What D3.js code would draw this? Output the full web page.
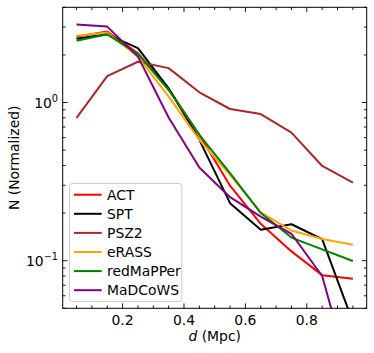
<!DOCTYPE html>
<html><head><meta charset="utf-8">
<script src="https://cdn.jsdelivr.net/npm/d3@7"></script>
<style>html,body{margin:0;padding:0;background:#fff;}svg{display:block;font-family:"DejaVu Sans",sans-serif;}</style>
</head><body><svg id="c" width="374" height="353"></svg>
<script>
const d = [0.05,0.15,0.25,0.35,0.45,0.55,0.65,0.75,0.85,0.95];
const ACT = [2.61,2.81,2.05,1.22,0.625,0.298,0.171,0.1145,0.081,0.077];
const SPT = [2.53,2.70,2.21,1.23,0.581,0.231,0.157,0.170,0.137,0.041];
const PSZ2 = [0.80,1.47,1.81,1.65,1.16,0.91,0.845,0.645,0.397,0.312];
const eRASS = [2.64,2.77,1.95,1.09,0.58,0.349,0.202,0.155,0.137,0.126];
const redMaPPer = [2.46,2.70,2.03,1.20,0.625,0.358,0.200,0.140,0.118,0.0995];
const MaDCoWS = [3.11,3.02,1.95,0.804,0.388,0.252,0.190,0.148,0.080,0.016];
const seriesNames = ["ACT","SPT","PSZ2","eRASS","redMaPPer","MaDCoWS"];
const seriesValues = [ACT,SPT,PSZ2,eRASS,redMaPPer,MaDCoWS];
const seriesColors = ["#ff0000","#000000","#a52a2a","#ffa500","#008000","#800080"];
const xTicks = [0.2,0.4,0.6,0.8];
const xTickLabels = ["0.2","0.4","0.6","0.8"];
const yTicks = [0.1,1];
const yTickExp = ["−1","0"];

const L=62.7,R=366.7,T=7.3,B=308.3;
const svg=d3.select("#c");
const x=d3.scaleLinear().domain([0.005,0.995]).range([L,R]);
const y=d3.scaleLog().domain([0.05,4]).range([B,T]);

svg.append("defs").append("clipPath").attr("id","clip").append("rect")
  .attr("x",L).attr("y",T).attr("width",R-L).attr("height",B-T);

const g=svg.append("g").attr("clip-path","url(#clip)");
const line=d3.line().x((v,i)=>x(d[i])).y(v=>y(v));
seriesValues.forEach((vals,k)=>{
  g.append("path").attr("d",line(vals)).attr("fill","none")
   .attr("stroke",seriesColors[k]).attr("stroke-width",2).attr("stroke-linejoin","round");
});

// ticks
const tk=svg.append("g").attr("stroke","#000").attr("stroke-width",0.9);
const xMinor=d3.range(1,20).map(i=>i*0.05).filter(v=>!xTicks.some(t=>Math.abs(t-v)<1e-9));
function xt(v,len){
  tk.append("line").attr("x1",x(v)).attr("x2",x(v)).attr("y1",B).attr("y2",B-len);
  tk.append("line").attr("x1",x(v)).attr("x2",x(v)).attr("y1",T).attr("y2",T+len);
}
xTicks.forEach(v=>xt(v,4.9));
xMinor.forEach(v=>xt(v,2.8));
const yMinor=[];
[0.01,0.1,1].forEach(b=>{for(let m=2;m<=9;m++){const v=b*m; if(v>=0.05&&v<=4.0001) yMinor.push(v);}});
function yt(v,len){
  tk.append("line").attr("y1",y(v)).attr("y2",y(v)).attr("x1",L).attr("x2",L+len);
  tk.append("line").attr("y1",y(v)).attr("y2",y(v)).attr("x1",R).attr("x2",R-len);
}
yTicks.forEach(v=>yt(v,4.9));
yMinor.forEach(v=>yt(v,2.8));

// frame
svg.append("rect").attr("x",L).attr("y",T).attr("width",R-L).attr("height",B-T)
  .attr("fill","none").attr("stroke","#000").attr("stroke-width",1);

// tick labels
xTicks.forEach((v,i)=>{
  svg.append("text").attr("x",x(v)).attr("y",324.6).attr("text-anchor","middle")
    .attr("font-size",13.9).attr("fill","#000").text(xTickLabels[i]);
});
yTicks.forEach((v,i)=>{
  const t=svg.append("text").attr("x",58).attr("y",y(v)+5.3).attr("text-anchor","end")
    .attr("font-size",13.9).attr("fill","#000");
  t.append("tspan").text("10");
  t.append("tspan").attr("dy",-6).attr("font-size",9.7).text(yTickExp[i]);
});

// axis labels
const xl=svg.append("text").attr("x",(L+R)/2).attr("y",340.5).attr("text-anchor","middle")
  .attr("font-size",13.9).attr("fill","#000");
xl.append("tspan").attr("font-style","italic").text("d");
xl.append("tspan").text(" (Mpc)");
svg.append("text").attr("transform",`translate(18.5,${(T+B)/2}) rotate(-90)`)
  .attr("text-anchor","middle").attr("font-size",13.9).attr("fill","#000").text("N (Normalized)");

// legend
const lg=svg.append("g");
lg.append("rect").attr("x",69.5).attr("y",183.5).attr("width",112.3).attr("height",118)
  .attr("rx",2.8).attr("fill","#fff").attr("fill-opacity",0.8).attr("stroke","#cccccc").attr("stroke-width",1);
seriesNames.forEach((n,k)=>{
  const yy=194.7+k*19.1;
  lg.append("line").attr("x1",74).attr("x2",101.7).attr("y1",yy).attr("y2",yy)
    .attr("stroke",seriesColors[k]).attr("stroke-width",2);
  lg.append("text").attr("x",107).attr("y",yy+5).attr("font-size",13.9).attr("fill","#000").text(n);
});
</script></body></html>
